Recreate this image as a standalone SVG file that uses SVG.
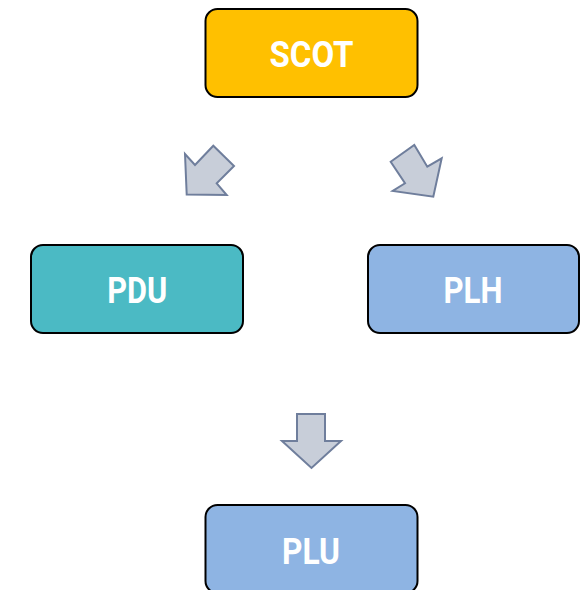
<svg xmlns="http://www.w3.org/2000/svg" width="586" height="590" viewBox="0 0 586 590">
<style>
.box{stroke:#000;stroke-width:2}
.lbl{font-family:Roboto,"Liberation Sans",sans-serif;font-weight:bold;font-size:37px;fill:#fff;text-anchor:middle}
.arr{fill:#C8CED9;stroke:#6F7E9C;stroke-width:2;stroke-linejoin:miter}
</style>
<rect width="586" height="590" fill="#fff"/>
<g id="connectors">
<polygon class="arr" points="186.7,194.5 185,154 195,165 213.3,145.7 234,166 216.7,183.3 226.7,195"/>
<polygon class="arr" points="390.7,161.7 414.3,145 427.3,166.7 441.7,158.3 433.3,196.7 392.7,191 405,183.3"/>
<polygon class="arr" points="297,414 325,414 325,441 341,441 311.5,468 282,441 297,441"/>
</g>
<g id="SCOT">
<rect class="box" x="205.5" y="9" width="212" height="88" rx="12" fill="#FFC000"/>
<text class="lbl" x="311.5" y="67" textLength="84" lengthAdjust="spacingAndGlyphs">SCOT</text>
</g>
<g id="PDU">
<rect class="box" x="31" y="245" width="212" height="88" rx="12" fill="#4BBAC4"/>
<text class="lbl" x="137.3" y="302.5" textLength="60" lengthAdjust="spacingAndGlyphs">PDU</text>
</g>
<g id="PLH">
<rect class="box" x="368" y="245" width="211" height="88" rx="12" fill="#8EB4E3"/>
<text class="lbl" x="473" y="302.5" textLength="59" lengthAdjust="spacingAndGlyphs">PLH</text>
</g>
<g id="PLU">
<rect class="box" x="205.5" y="505" width="212" height="88" rx="12" fill="#8EB4E3"/>
<text class="lbl" x="311" y="564" textLength="58" lengthAdjust="spacingAndGlyphs">PLU</text>
</g>
</svg>
